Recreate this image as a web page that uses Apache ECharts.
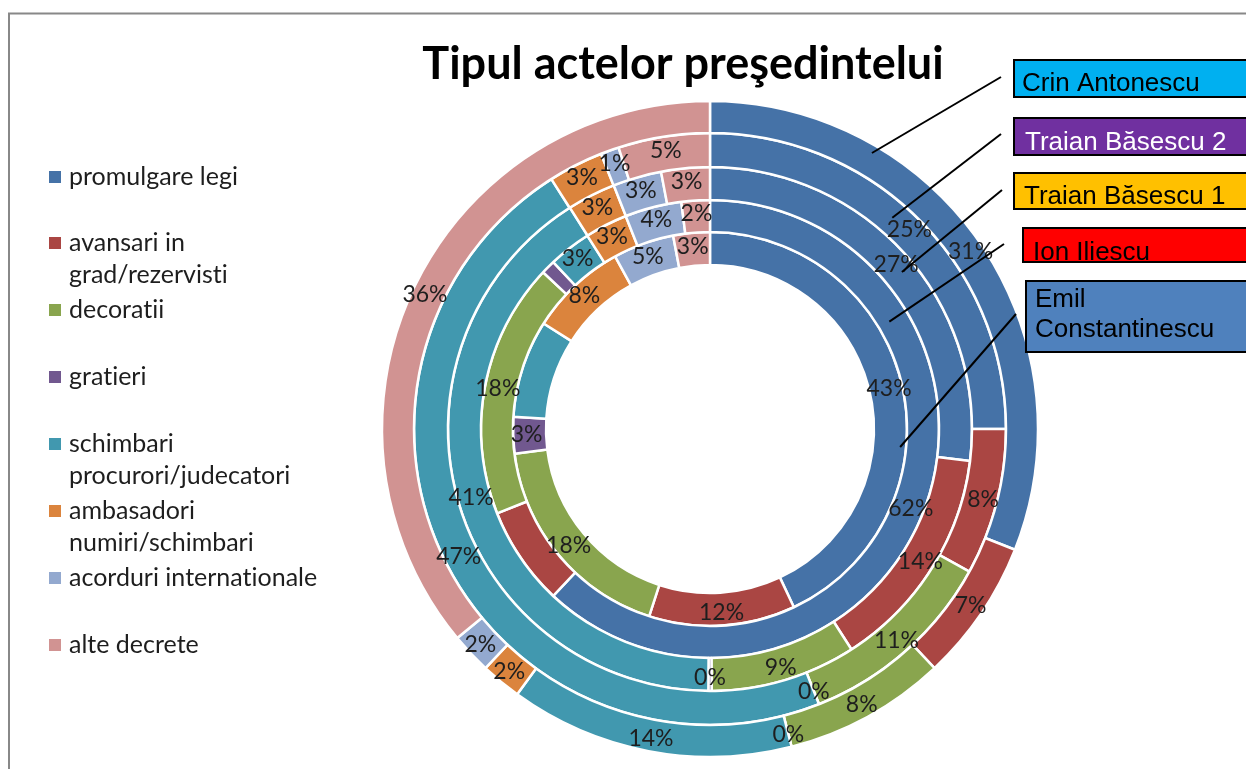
<!DOCTYPE html>
<html>
<head>
<meta charset="utf-8">
<script src="https://cdn.jsdelivr.net/npm/echarts@6/dist/echarts.min.js"></script>
<style>
html,body{margin:0;padding:0;background:#fff;}
#chart{width:1246px;height:769px;}
</style>
</head>
<body>
<div id="chart"></div>
<script>
// ---- data ----
const categories = [
  'promulgare legi',
  'avansari in\ngrad/rezervisti',
  'decoratii',
  'gratieri',
  'schimbari\nprocurori/judecatori',
  'ambasadori\nnumiri/schimbari',
  'acorduri internationale',
  'alte decrete'
];
// rings from inner to outer
const presidents = ['Emil Constantinescu', 'Ion Iliescu', 'Traian Băsescu 1', 'Traian Băsescu 2', 'Crin Antonescu'];
const emilConstantinescu = [43, 12, 18, 3, 8, 8, 5, 3];
const ionIliescu        = [62, 7, 18, 1, 3, 3, 4, 2];
const traianBasescu1    = [27, 14, 9, 0.2, 41, 3, 3, 3];
const traianBasescu2    = [25, 8, 11, 0, 47, 3, 1, 5];
const crinAntonescu     = [31, 7, 8, 0, 14, 2, 2, 36];
const ringValues = [emilConstantinescu, ionIliescu, traianBasescu1, traianBasescu2, crinAntonescu];
const titleText = 'Tipul actelor preşedintelui';

// plain glyphs (no "ti" ligatures) for canvas text
(function () {
  const P = CanvasRenderingContext2D.prototype;
  ['fillText', 'strokeText', 'measureText'].forEach(fn => {
    const orig = P[fn];
    P[fn] = function () {
      if ('textRendering' in this && this.textRendering !== 'optimizeSpeed') this.textRendering = 'optimizeSpeed';
      return orig.apply(this, arguments);
    };
  });
})();

// ---- styling / layout ----
const colors = ['#4572A7', '#AA4643', '#89A54E', '#71588F', '#4198AF', '#DB843D', '#93A9CF', '#D19392'];
const CX = 710, CY = 429;
const RADII = [164, 197, 229, 262, 296, 328];
const boxStyle = [
  {fill: '#00B0F0', text: '#000', x: 1014, y: 60, h: 37, tx: 1022, ty: [84]},
  {fill: '#7030A0', text: '#fff', x: 1014, y: 118, h: 37, tx: 1025, ty: [143]},
  {fill: '#FFC000', text: '#000', x: 1014, y: 173, h: 36, tx: 1024, ty: [197]},
  {fill: '#FF0000', text: '#000', x: 1023, y: 228, h: 34, tx: 1033, ty: [253], clipBottom: true},
  {fill: '#4F81BD', text: '#000', x: 1026, y: 281, h: 71, tx: 1035, ty: [300, 330]}
];
// leader lines: start point at box, end on ring (angle in degrees clockwise from top)
const leaders = [
  {sx: 1001, sy: 77, ang: 30.4},
  {sx: 1001, sy: 134, ang: 40.8},
  {sx: 1002, sy: 190, ang: 50.7},
  {sx: 1004, sy: 244, ang: 59.1},
  {sx: 1016, sy: 314, ang: 95.4}
];
const boxOrder = [4, 3, 2, 1, 0];
const leaderRadius = [191, 209, 248, 279, 320];

const chart = echarts.init(document.getElementById('chart'), null, {renderer: 'canvas'});

const series = ringValues.map((vals, i) => ({
  type: 'pie',
  name: presidents[i],
  center: [CX, CY],
  radius: [RADII[i], RADII[i + 1]],
  startAngle: 90,
  clockwise: true,
  avoidLabelOverlap: false,
  animation: false,
  silent: true,
  label: {
    show: true,
    position: 'inside',
    formatter: p => Math.round(p.value) + '%',
    fontFamily: 'Lato',
    fontSize: 23,
    color: '#1e1e1e'
  },
  labelLine: {show: false},
  itemStyle: {borderColor: '#fff', borderWidth: 2.5},
  emphasis: {disabled: true},
  data: categories.map((c, j) => ({name: c, value: vals[j], itemStyle: {color: colors[j]}}))
}));

const legendCenters = [177, 243, 310, 377, 444, 511, 578, 645];
const LH = 32;
const legends = categories.map((c, j) => {
  const nl = c.split('\n').length;
  const lines = nl > 1 ? nl * 2 - 1 : 1;
  return {
    data: [c],
    orient: 'vertical',
    left: 47,
    top: legendCenters[j] - lines * LH / 2,
    padding: 0,
    itemWidth: 14,
    itemHeight: 14,
    itemGap: 0,
    icon: 'rect',
    selectedMode: false,
    formatter: name => (name.indexOf('\n') >= 0 ? '\n' + name : name),
    textStyle: {fontFamily: 'Lato', fontSize: 25, color: '#1e1e1e', lineHeight: LH, padding: [0, 0, 0, 2]}
  };
});

const graphics = [];
graphics.push({
  type: 'rect', z: 100,
  shape: {x: 9, y: 13.5, width: 1400, height: 900},
  style: {fill: null, stroke: '#888', lineWidth: 2}
});
boxOrder.forEach((pi, k) => {
  const b = boxStyle[k];
  const L = leaders[k];
  const a = L.ang * Math.PI / 180;
  const r = leaderRadius[pi];
  graphics.push({
    type: 'line', z: 110,
    shape: {x1: L.sx, y1: L.sy, x2: CX + r * Math.sin(a), y2: CY - r * Math.cos(a)},
    style: {stroke: '#000', lineWidth: 2}
  });
  graphics.push({
    type: 'rect', z: 110,
    shape: {x: b.x, y: b.y, width: 300, height: b.h},
    style: {fill: b.fill, stroke: null}
  });
  const words = presidents[pi].split(' ');
  const textLines = b.ty.length > 1 ? [words[0], words.slice(1).join(' ')] : [presidents[pi]];
  textLines.forEach((t, li) => {
    graphics.push({
      type: 'text', z: 111,
      style: {text: t, x: b.tx, y: b.ty[li], fill: b.text, font: '26px "Liberation Sans", Arial', textVerticalAlign: 'middle', verticalAlign: 'middle'}
    });
  });
  if (b.clipBottom) {
    graphics.push({
      type: 'rect', z: 112,
      shape: {x: b.x - 1, y: b.y + b.h + 1, width: 300, height: 12},
      style: {fill: '#fff', stroke: null}
    });
  }
  graphics.push({
    type: 'rect', z: 113,
    shape: {x: b.x, y: b.y, width: 300, height: b.h},
    style: {fill: null, stroke: '#000', lineWidth: 2}
  });
});

chart.setOption({
  animation: false,
  backgroundColor: '#fff',
  title: {
    text: titleText,
    left: 683,
    top: 42,
    padding: 0,
    textAlign: 'center',
    textStyle: {fontFamily: 'Lato', fontWeight: 'bold', fontSize: 45, color: '#000'}
  },
  legend: legends,
  series: series,
  graphic: {elements: graphics}
});
</script>
</body>
</html>
